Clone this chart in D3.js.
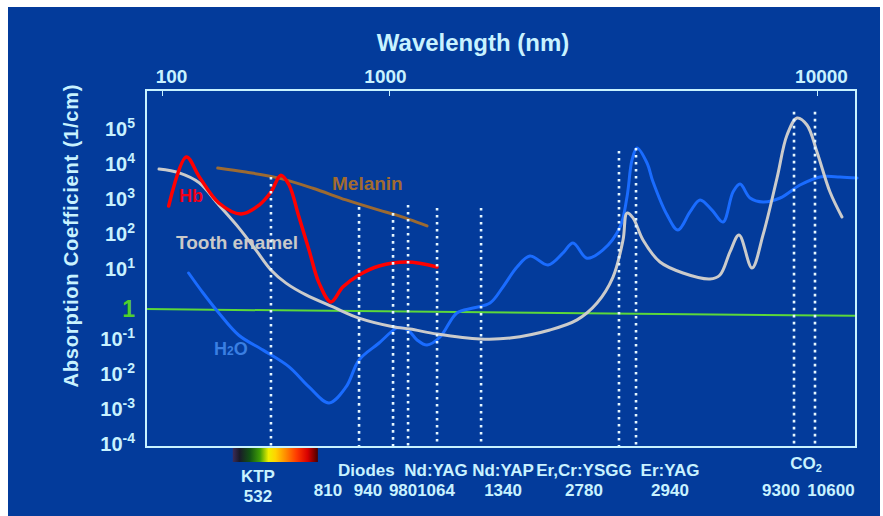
<!DOCTYPE html>
<html>
<head>
<meta charset="utf-8">
<script src="https://cdnjs.cloudflare.com/ajax/libs/d3/7.8.5/d3.min.js"></script>
<style>
body{margin:0;background:#fff;}
text{font-family:"Liberation Sans",Arial,sans-serif;font-weight:bold;}
</style>
</head>
<body>
<script>
// curves: [wavelength as read on the top axis (nm), absorption (1/cm)]
var hb = [
[107,590],[128,14800],[146,4000],[178,720],[223,350],[268,630],[302,1480],[334,4500],
[363,2350],[401,290],[444,33],[492,3.7],[555,1.07],[627,2.9],[738,6.3],[904,11.4],
[1102,14.8],[1295,10.7]
];
var melanin = [
[176,7200],[234,5500],[328,3700],[462,1900],[647,880],[904,450],[1038,330],[1227,160]
];
var enamel = [
[97,6700],[119,5200],[146,2700],[178,630],[218,140],[259,33],[302,8.8],[352,3.7],
[431,1.7],[567,0.77],[738,0.37],[1022,0.21],[1120,0.18],[1295,0.13],[1632,0.094],
[1918,0.1],[2377,0.17],[2750,0.33],[3062,1],[3337,5.5],[3522,63],[3598,370],[3716,270],
[3922,63],[4297,14.8],[4863,7.2],[5623,4.85],[5934,6.3],[6262,28.7],[6574,88],[7049,10],
[7480,88],[8064,3700],[8511,63000],[8981,193000],[9476,122000],[10000,20600],[10725,1480],
[11438,287]
];
var water = [
[131,7.2],[152,1.9],[178,0.52],[218,0.12],[279,0.045],[363,0.015],[444,0.004],[544,0.0014],
[647,0.004],[738,0.0235],[904,0.072],[1038,0.19],[1061,0.2],[1108,0.17],[1163,0.088],
[1227,0.063],[1316,0.107],[1441,0.52],[1572,0.72],[1722,1],[1847,2.9],[1991,10.7],
[2135,22],[2352,12.2],[2551,27],[2691,52],[2901,19],[3162,33],[3465,148],[3598,1070],
[3697,12200],[3797,26800],[4007,10000],[4138,2900],[4462,330],[4734,122],[5050,400],
[5330,880],[5684,450],[6031,206],[6365,1480],[6610,2500],[6976,1000],[7480,770],
[8197,1000],[9127,2350],[10163,4000],[11317,4000],[12404,3700]
];
var unityLine = [[85,0.67],[12300,0.43]];

// lasers
var laserNm  = [532,810,940,980,1064,1340,2780,2940,9300,10600];
var laserAt  = [302,738,1022,1108,1295,1641,3446,3777,8837,9893]; // position read on the axis
var laserTop = [4000,550,370,630,520,520,22000,27000,290000,290000];
var laserGroup = [0,1,1,1,2,3,4,5,6,6];
var groupNames = ["KTP","Diodes","Nd:YAG","Nd:YAP","Er,Cr:YSGG","Er:YAG","CO2"];
var visibleBand = [205,486];

var xTicks = [100,1000,10000];
var yExp = [5,4,3,2,1,0,-1,-2,-3,-4];

var W = 883, H = 516;
var box = {left:146, top:90, right:856, bottom:447};
var ink = "#c8f2ff";

var x = d3.scaleLog().domain([100,1000,10000]).range([162,389,817]);
var y = d3.scaleLog().domain([1e-4,1e5]).range([443,128]);

var svg = d3.select("body").append("svg").attr("width",W).attr("height",H);
svg.append("rect").attr("x",8).attr("y",7).attr("width",872).attr("height",H-7).attr("fill","#033b9b");

var grad = svg.append("defs").append("linearGradient").attr("id","vis");
[[0,"#3c2c58"],[0.08,"#1a1a28"],[0.2,"#125214"],[0.32,"#3f9e06"],[0.42,"#eef000"],
 [0.5,"#ffd400"],[0.62,"#ff8c00"],[0.75,"#ff3a00"],[0.88,"#d80000"],[1,"#480000"]]
 .forEach(function(s){ grad.append("stop").attr("offset",s[0]).attr("stop-color",s[1]); });

var line = d3.line()
  .x(function(d){ return x(d[0]); })
  .y(function(d){ return y(d[1]); })
  .curve(d3.curveCatmullRom.alpha(0.5));

// reference line at 1
svg.append("path").attr("d",d3.line().x(function(d){return x(d[0]);}).y(function(d){return y(d[1]);})(unityLine))
  .attr("fill","none").attr("stroke","#5cd83a").attr("stroke-width",2);

// curve labels
svg.append("text").attr("x",179).attr("y",202).attr("font-size",18).attr("fill","#f0001a").text("Hb");
svg.append("text").attr("x",176).attr("y",249).attr("font-size",19).attr("fill","#c9c9c9").text("Tooth enamel");
svg.append("text").attr("x",332).attr("y",190).attr("font-size",19).attr("fill","#a26b2f").text("Melanin");
var hl = svg.append("text").attr("x",214).attr("y",355).attr("font-size",18).attr("fill","#3a7fe2");
hl.append("tspan").text("H");
hl.append("tspan").attr("font-size",12).text("2");
hl.append("tspan").text("O");

function curve(data,color,w){
  svg.append("path").attr("d",line(data)).attr("fill","none").attr("stroke",color)
    .attr("stroke-width",w).attr("stroke-linecap","round").attr("stroke-linejoin","round");
}
curve(water,"#1a6cff",3);
curve(enamel,"#cbcbcb",3);
curve(melanin,"#9c6a32",3);
curve(hb,"#ff0000",3.5);

// laser lines
svg.append("g").selectAll("line").data(laserNm).join("line")
  .attr("x1",function(d,i){ return x(laserAt[i]); })
  .attr("x2",function(d,i){ return x(laserAt[i]); })
  .attr("y1",function(d,i){ return y(laserTop[i]); })
  .attr("y2",box.bottom)
  .attr("stroke","#e4f6ff").attr("stroke-width",2.6).attr("stroke-dasharray","2.6 4.4");

// frame
svg.append("rect").attr("x",box.left).attr("y",box.top)
  .attr("width",box.right-box.left).attr("height",box.bottom-box.top)
  .attr("fill","none").attr("stroke",ink).attr("stroke-width",2);

// visible spectrum bar
svg.append("rect").attr("x",x(visibleBand[0])).attr("y",box.bottom+1)
  .attr("width",x(visibleBand[1])-x(visibleBand[0])).attr("height",14).attr("fill","url(#vis)");

// top axis
var topAxis = svg.append("g").attr("transform","translate(0,"+box.top+")")
  .call(d3.axisTop(x).tickValues(xTicks).tickSizeInner(-6).tickSizeOuter(0).tickPadding(7)
    .tickFormat(d3.format("d")));
topAxis.select(".domain").remove();
topAxis.selectAll(".tick line").attr("stroke",ink);
topAxis.selectAll(".tick text").attr("fill",ink).attr("font-size",19)
  .attr("font-family","'Liberation Sans',Arial,sans-serif")
  .attr("dx",function(d){ return d===100?9:(d===1000?-4:4); });

svg.append("text").attr("x",473).attr("y",51).attr("text-anchor","middle")
  .attr("font-size",24).attr("fill",ink).text("Wavelength (nm)");

// left axis
var leftAxis = svg.append("g").attr("transform","translate("+box.left+",0)")
  .call(d3.axisLeft(y).tickValues(yExp.map(function(e){ return Math.pow(10,e); }))
    .tickSize(0).tickPadding(11).tickFormat(""));
leftAxis.select(".domain").remove();
leftAxis.selectAll(".tick text").each(function(d){
  var e = Math.round(Math.log10(d));
  var t = d3.select(this).attr("font-family","'Liberation Sans',Arial,sans-serif").attr("fill",ink);
  if(e===0){
    t.attr("font-size",23).attr("fill","#4fd02c").attr("dy","0.6em").text("1");
  } else {
    t.attr("font-size",20).attr("dy","0.36em");
    t.append("tspan").text("10");
    t.append("tspan").attr("font-size",14).attr("dy",-8).text(String(e));
  }
});

svg.append("text").attr("transform","translate(78,236) rotate(-90)").attr("text-anchor","middle")
  .attr("font-size",20).attr("textLength",303).attr("lengthAdjust","spacing")
  .attr("fill",ink).text("Absorption Coefficient (1/cm)");

// laser labels
var numDx = [-13,-31,-25,-5,-1,22,-35,34,-13,16];
var numX = laserNm.map(function(d,i){ return x(laserAt[i]) + numDx[i]; });
svg.append("g").selectAll("text").data(laserNm).join("text")
  .attr("x",function(d,i){ return numX[i]; })
  .attr("y",function(d,i){ return i===0?502:496; })
  .attr("text-anchor","middle").attr("font-size",17).attr("fill",ink)
  .text(function(d){ return d; });

var ng = svg.append("g");
groupNames.forEach(function(n,g){
  var xs = numX.filter(function(v,i){ return laserGroup[i]===g; });
  var cx = d3.mean(xs);
  var t = ng.append("text").attr("x",cx).attr("text-anchor","middle").attr("font-size",17).attr("fill",ink);
  if(n==="CO2"){
    t.attr("y",469);
    t.append("tspan").text("CO");
    t.append("tspan").attr("font-size",11).attr("dy",3).text("2");
  } else {
    t.attr("y",g===0?482:476).text(n);
  }
});
</script>
</body>
</html>
